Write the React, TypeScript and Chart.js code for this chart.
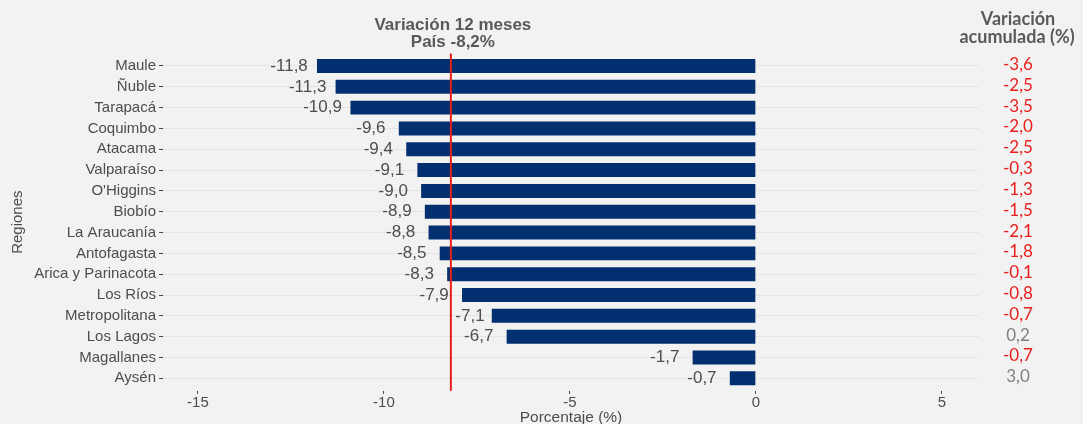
import React, { useEffect, useRef } from 'react';
import { Chart, registerables } from 'chart.js';

Chart.register(...registerables);

const regions = [
  'Maule', 'Ñuble', 'Tarapacá', 'Coquimbo', 'Atacama', 'Valparaíso', "O'Higgins", 'Biobío',
  'La Araucanía', 'Antofagasta', 'Arica y Parinacota', 'Los Ríos', 'Metropolitana', 'Los Lagos',
  'Magallanes', 'Aysén',
];
const variation12 = [-11.8, -11.3, -10.9, -9.6, -9.4, -9.1, -9.0, -8.9, -8.8, -8.5, -8.3, -7.9, -7.1, -6.7, -1.7, -0.7];
const accumulated = [-3.6, -2.5, -3.5, -2.0, -2.5, -0.3, -1.3, -1.5, -2.1, -1.8, -0.1, -0.8, -0.7, 0.2, -0.7, 3.0];
const countryValue = -8.2;
const xTicks = [-15, -10, -5, 0, 5];
const titleLines = ['Variación 12 meses', 'País -8,2%'];
const sideTitleLines = ['Variación', 'acumulada (%)'];

const SANS = '"Liberation Sans", Arial, sans-serif';
const LATO = 'Lato, "Liberation Sans", sans-serif';
const BG = '#f2f2f2';
const BAR = '#012f6f';
const RED = '#ea1f1c';
const TEXT = '#4d4d4d';

const fmt = (v: number) => v.toFixed(1).replace('.', ',');

export default function App() {
  const ref = useRef<HTMLCanvasElement | null>(null);

  useEffect(() => {
    const canvas = ref.current;
    if (!canvas) return;

    const decor = {
      id: 'decor',
      beforeDraw(chart: any) {
        const ctx = chart.ctx;
        ctx.save();
        ctx.fillStyle = BG;
        ctx.fillRect(0, 0, chart.width, chart.height);
        ctx.restore();
      },
      afterDatasetsDraw(chart: any) {
        const ctx = chart.ctx;
        const xs = chart.scales.x;
        const ys = chart.scales.y;
        const area = chart.chartArea;
        const rx = xs.getPixelForValue(countryValue);
        ctx.save();
        // value labels (moved to the right of the reference line if they would cross it)
        ctx.font = `17px ${SANS}`;
        ctx.fillStyle = TEXT;
        ctx.textAlign = 'center';
        ctx.textBaseline = 'middle';
        variation12.forEach((v, i) => {
          const txt = fmt(v);
          const w = ctx.measureText(txt).width;
          let cx = xs.getPixelForValue(v - 0.75);
          if (cx - w / 2 < rx + 2 && cx + w / 2 > rx - 2) cx = rx + 4.5 + w / 2;
          ctx.fillText(txt, cx, ys.getPixelForValue(i));
        });
        // country reference line
        ctx.strokeStyle = RED;
        ctx.lineWidth = 2;
        ctx.beginPath();
        ctx.moveTo(rx, area.top);
        ctx.lineTo(rx, area.bottom);
        ctx.stroke();
        // title
        ctx.font = `bold 17px ${SANS}`;
        ctx.fillStyle = '#595959';
        ctx.textBaseline = 'alphabetic';
        ctx.fillText(titleLines[0], rx + 2, 30);
        ctx.fillText(titleLines[1], rx + 2, 47);
        // side column
        const sx = 1018;
        ctx.font = `bold 18px ${LATO}`;
        ctx.fillStyle = '#5a5a5a';
        ctx.fillText(sideTitleLines[0], sx, 25);
        ctx.fillText(sideTitleLines[1], sx - 1, 43);
        ctx.font = `17px ${LATO}`;
        ctx.textBaseline = 'middle';
        accumulated.forEach((v, i) => {
          ctx.fillStyle = v < 0 ? RED : '#808080';
          ctx.fillText(fmt(v), sx, ys.getPixelForValue(i) - 1.5);
        });
        ctx.restore();
      },
    };

    const chart = new Chart(canvas, {
      type: 'bar',
      data: {
        datasets: [
          {
            data: variation12.map((v, i) => ({ x: v, y: i })),
            backgroundColor: BAR,
            borderWidth: 0,
            barPercentage: 0.67,
            categoryPercentage: 1,
          },
        ],
      },
      options: {
        indexAxis: 'y',
        responsive: false,
        animation: false,
        layout: { padding: { top: 53.5, right: 104, left: 0, bottom: 0 } },
        plugins: { legend: { display: false }, tooltip: { enabled: false } },
        scales: {
          x: {
            type: 'linear',
            min: -15.94,
            max: 6.0,
            offset: false,
            afterBuildTicks: (s: any) => {
              s.ticks = xTicks.map((v) => ({ value: v }));
            },
            afterFit: (s: any) => {
              s.height = 33.2;
            },
            grid: { offset: false, drawOnChartArea: false, drawTicks: true, tickLength: 3, tickColor: '#444' },
            border: { display: false },
            ticks: {
              color: TEXT,
              font: { family: SANS, size: 15 },
              padding: 0,
              callback: (v: any) => String(v),
            },
            title: {
              display: true,
              text: 'Porcentaje (%)',
              color: TEXT,
              font: { family: SANS, size: 15.5 },
              padding: { top: 0, bottom: -3 },
            },
          },
          y: {
            type: 'linear',
            reverse: true,
            offset: false,
            min: -0.6,
            max: 15.6,
            afterBuildTicks: (s: any) => {
              s.ticks = regions.map((_, i) => ({ value: i }));
            },
            afterFit: (s: any) => {
              s.width = 163;
            },
            grid: { offset: false, color: '#e4e4e4', lineWidth: 1, drawTicks: true, tickLength: 4, tickColor: '#444' },
            border: { display: false },
            ticks: {
              autoSkip: false,
              color: TEXT,
              font: { family: SANS, size: 15 },
              padding: 3,
              callback: (v: any) => regions[v] ?? '',
            },
            title: {
              display: true,
              text: 'Regiones',
              color: TEXT,
              font: { family: SANS, size: 15 },
              padding: { top: 9, bottom: 0 },
            },
          },
        },
      },
      plugins: [decor],
    } as any);

    return () => chart.destroy();
  }, []);

  return (
    <div style={{ position: 'fixed', left: 0, top: 0, width: 1083, height: 424, background: BG }}>
      <canvas ref={ref} width={1083} height={424} style={{ display: 'block', width: 1083, height: 424 }} />
    </div>
  );
}
